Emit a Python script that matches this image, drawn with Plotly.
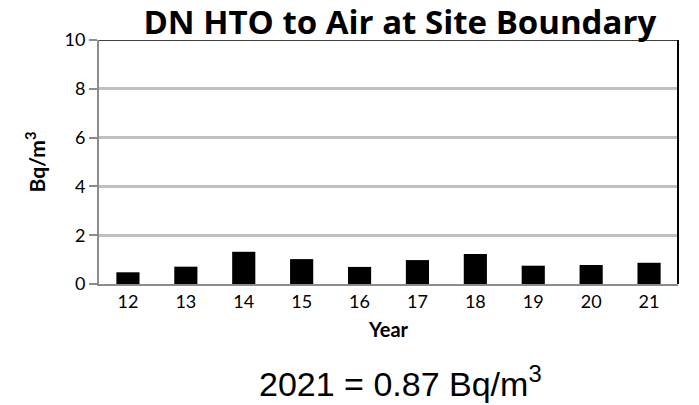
import plotly.graph_objects as go

years = ["12", "13", "14", "15", "16", "17", "18", "19", "20", "21"]
values = [0.48, 0.71, 1.32, 1.02, 0.70, 0.98, 1.23, 0.75, 0.78, 0.87]
y_ticks = [0, 2, 4, 6, 8, 10]

FONT = "Lato"

fig = go.Figure()
fig.add_trace(go.Bar(x=years, y=values, marker=dict(color="black", line=dict(width=0)), width=0.4))

fig.update_layout(
    width=699, height=405,
    margin=dict(l=99, r=21, t=40, b=121, autoexpand=False),
    paper_bgcolor="white", plot_bgcolor="white",
    showlegend=False,
    font=dict(family=FONT, color="black", size=18),
    title=dict(text="<b>DN HTO to Air at Site Boundary</b>", x=0.572, xanchor="center",
               y=0.944, yanchor="middle", font=dict(size=33, family="Open Sans", color="black")),
)
fig.update_xaxes(
    type="category", showline=True, linecolor="#8c8c8c", linewidth=2,
    ticks="", showgrid=False, automargin=False,
    tickfont=dict(size=18, family=FONT, color="black"),
    title=dict(text="<b>Year</b>", font=dict(size=20, family=FONT, color="black"), standoff=12),
)
fig.update_yaxes(
    range=[0, 10], tickvals=y_ticks, showline=True, linecolor="#8c8c8c", linewidth=2,
    ticks="outside", ticklen=8, tickcolor="#8c8c8c", tickwidth=1.5, automargin=False,
    tickfont=dict(size=18, family=FONT, color="black"),
    showgrid=True, gridcolor="#c0c0c0", gridwidth=3, zeroline=False,
    title=dict(text="<b>Bq/m<sup>3</sup></b>", font=dict(size=21, family=FONT, color="black"), standoff=13),
)
fig.add_shape(type="line", xref="paper", yref="y", x0=0, x1=1, y0=10, y1=10,
              line=dict(color="black", width=1.5))
fig.add_shape(type="line", xref="paper", yref="paper", x0=1, x1=1, y0=0, y1=1,
              line=dict(color="black", width=2))
fig.add_annotation(text="2021 = 0.87 Bq/m<sup>3</sup>", xref="paper", yref="paper",
                   x=0.52, y=-0.40, xanchor="center", yanchor="middle", showarrow=False,
                   font=dict(size=34, family="Liberation Sans", color="black"))

fig.write_html("out.html", post_script="document.body.style.margin='0';",
               config={"displayModeBar": False})
